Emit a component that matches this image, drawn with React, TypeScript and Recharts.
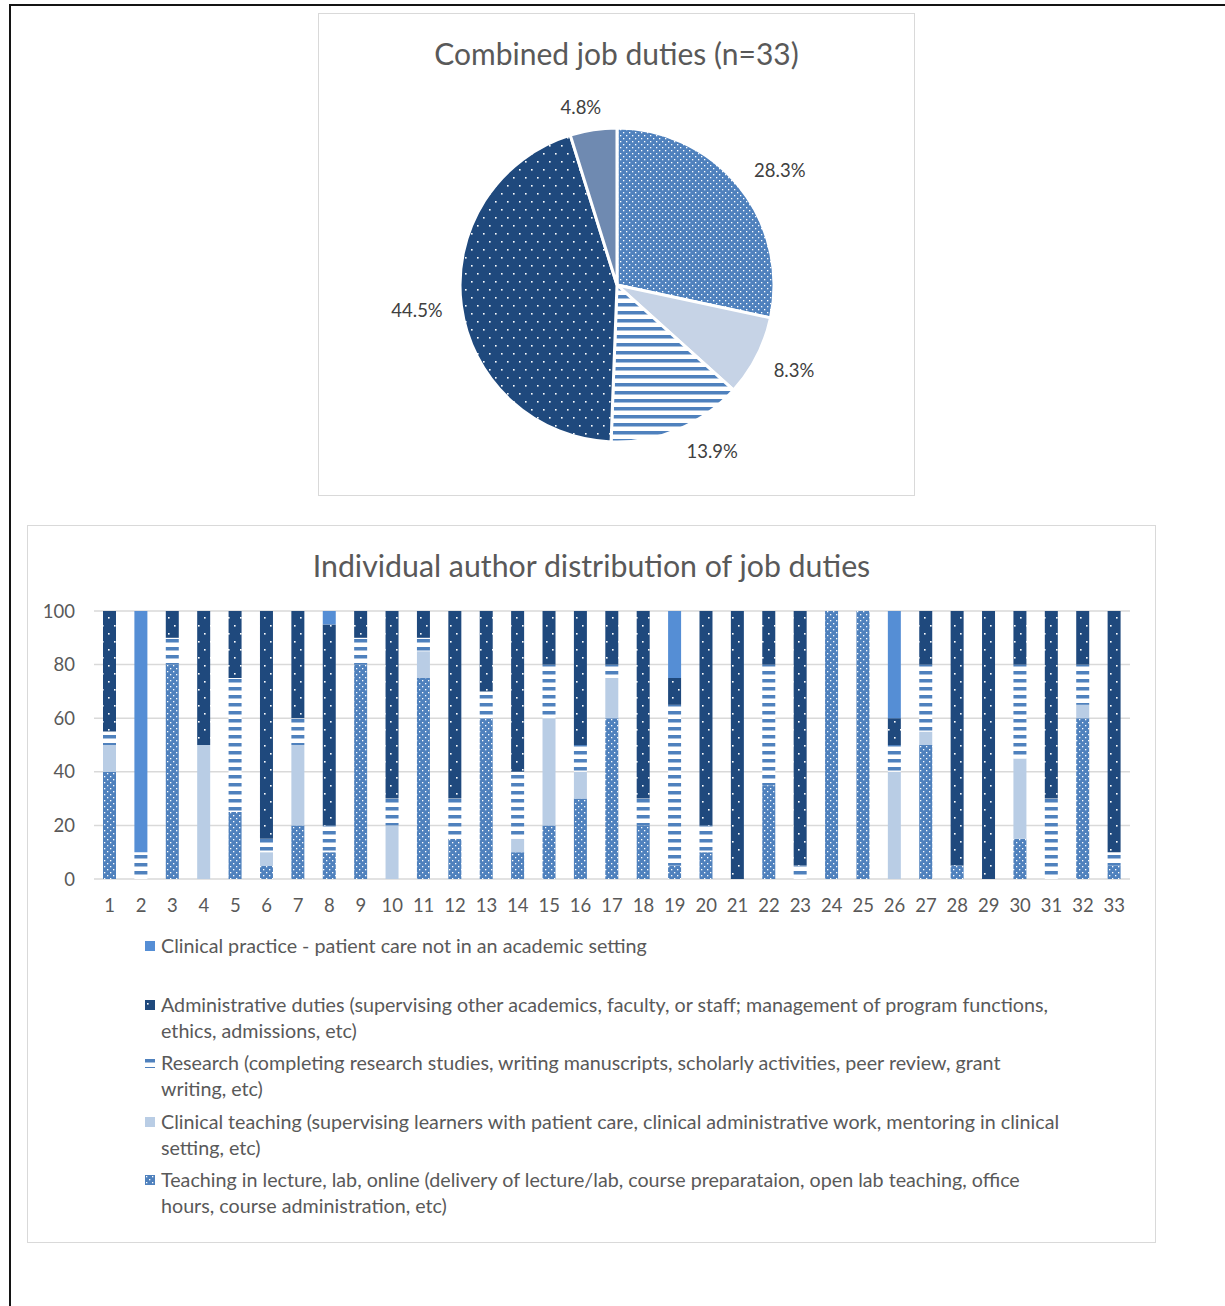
import React from 'react';
import { BarChart, Bar, XAxis, YAxis, CartesianGrid, Legend, PieChart, Pie, Cell } from 'recharts';

// ---------- data ----------
const AUTHORS = ['1','2','3','4','5','6','7','8','9','10','11','12','13','14','15','16','17','18','19','20','21','22','23','24','25','26','27','28','29','30','31','32','33'];
const TEACHING =           [40, 0, 80, 0, 25, 5, 20, 10, 80, 0, 75, 15, 60, 10, 20, 30, 60, 20, 5, 10, 0, 35, 0, 100, 100, 0, 50, 5, 0, 15, 0, 60, 5];
const CLINICAL_TEACHING =  [10, 0, 0, 50, 0, 5, 30, 0, 0, 20, 10, 0, 0, 5, 40, 10, 15, 0, 0, 0, 0, 0, 0, 0, 0, 40, 5, 0, 0, 30, 0, 5, 0];
const RESEARCH =           [5, 10, 10, 0, 50, 5, 10, 10, 10, 10, 5, 15, 10, 25, 20, 10, 5, 10, 60, 10, 0, 45, 5, 0, 0, 10, 25, 0, 0, 35, 30, 15, 5];
const ADMIN =              [45, 0, 10, 50, 25, 85, 40, 75, 10, 70, 10, 70, 30, 60, 20, 50, 20, 70, 10, 80, 100, 20, 95, 0, 0, 10, 20, 95, 100, 20, 70, 20, 90];
const PRACTICE =           [0, 90, 0, 0, 0, 0, 0, 5, 0, 0, 0, 0, 0, 0, 0, 0, 0, 0, 25, 0, 0, 0, 0, 0, 0, 40, 0, 0, 0, 0, 0, 0, 0];
const Y_TICKS = [0, 20, 40, 60, 80, 100];

const PIE_NAMES = ['Teaching', 'Clinical teaching', 'Research', 'Administrative duties', 'Clinical practice'];
const PIE_VALUES = [28.3, 8.3, 13.9, 44.5, 4.8];

const PIE_TITLE = 'Combined job duties (n=33)';
const BAR_TITLE = 'Individual author distribution of job duties';

const LEGEND_ORDER = ['practice', 'admin', 'research', 'clinicalTeaching', 'teaching'];
const LEGEND_LINES: Record<string, string[]> = {
  practice: ['Clinical practice - patient care not in an academic setting'],
  admin: ['Administrative duties (supervising other academics, faculty, or staff; management of program functions,', 'ethics, admissions, etc)'],
  research: ['Research (completing research studies, writing manuscripts, scholarly activities, peer review, grant', 'writing, etc)'],
  clinicalTeaching: ['Clinical teaching (supervising learners with patient care, clinical administrative work, mentoring in clinical', 'setting, etc)'],
  teaching: ['Teaching in lecture, lab, online (delivery of lecture/lab, course preparataion, open lab teaching, office', 'hours, course administration, etc)'],
};

const barData = AUTHORS.map((a, i) => ({
  author: a,
  teaching: TEACHING[i],
  clinicalTeaching: CLINICAL_TEACHING[i],
  research: RESEARCH[i],
  admin: ADMIN[i],
  practice: PRACTICE[i],
}));
const pieData = PIE_NAMES.map((n, i) => ({ name: n, value: PIE_VALUES[i] }));

// ---------- style ----------
const FONT = 'Lato, "Open Sans", sans-serif';
const TEXT = '#595959';
const BLUE = '#4f81bd';
const DARK = '#1f497d';
const LIGHT_BAR = '#b9cde5';
const LIGHT_PIE = '#c6d3e6';
const PRACTICE_BAR = '#558ed5';
const PRACTICE_PIE = '#6f8ab1';

const Patterns = ({ p }: { p: string }) => (
  <defs>
    <pattern id={`${p}teach`} width={6} height={6} patternUnits="userSpaceOnUse">
      <rect width={6} height={6} fill={BLUE} />
      <rect x={1} y={1} width={1.3} height={1.3} fill="#fff" />
      <rect x={4} y={4} width={1.3} height={1.3} fill="#fff" />
    </pattern>
    <pattern id={`${p}admin`} width={12} height={16} patternUnits="userSpaceOnUse">
      <rect width={12} height={16} fill={DARK} />
      <rect x={2} y={3} width={1.6} height={1.6} fill="#fff" />
      <rect x={8} y={11} width={1.6} height={1.6} fill="#fff" />
    </pattern>
    <pattern id={`${p}research`} width={8} height={8} patternUnits="userSpaceOnUse">
      <rect width={8} height={8} fill="#fff" />
      <rect y={1} width={8} height={3.5} fill={BLUE} />
    </pattern>
  </defs>
);

const clamp = (v: number) => Math.max(-1, Math.min(1, v));

const renderPieLabel = (props: any) => {
  const RAD = Math.PI / 180;
  const cx = Number(props.cx), cy = Number(props.cy);
  const dx = Math.cos(-props.midAngle * RAD);
  const dy = Math.sin(-props.midAngle * RAD);
  const text = `${Number(props.value).toFixed(1)}%`;
  const w = text.length * 11;
  const h = 12;
  const r = Number(props.outerRadius) + 17;
  const x = cx + r * dx + clamp(dx * 3) * w / 2;
  const y = cy + r * dy + clamp(dy * 3) * h / 2;
  return (
    <text x={x} y={y} textAnchor="middle" dominantBaseline="central"
      fill="#404040" style={{ fontFamily: FONT, fontSize: 18.5 }}>
      {text}
    </text>
  );
};

const renderLegend = (props: any) => {
  const items = [...(props.payload || [])].sort(
    (a: any, b: any) => LEGEND_ORDER.indexOf(a.dataKey) - LEGEND_ORDER.indexOf(b.dataKey)
  );
  return (
    <div style={{ fontFamily: FONT, fontSize: 19.7, color: TEXT, lineHeight: '26px' }}>
      {items.map((it: any) => (
        <div key={it.dataKey} style={{ display: 'flex', alignItems: 'flex-start', height: 58.6 }}>
          <svg width={10} height={10} style={{ marginTop: 8, marginRight: 6, flex: 'none' }}>
            <rect width={10} height={10} fill={it.color} />
          </svg>
          <div>
            {(LEGEND_LINES[it.dataKey] || [String(it.value)]).map((l, i) => (
              <div key={i} style={{ whiteSpace: 'nowrap' }}>{l}</div>
            ))}
          </div>
        </div>
      ))}
    </div>
  );
};

const pieFills = ['url(#pteach)', LIGHT_PIE, 'url(#presearch)', 'url(#padmin)', PRACTICE_PIE];

export default function App() {
  return (
    <div style={{ position: 'fixed', left: 0, top: 0, width: 1225, height: 1306, overflow: 'hidden', background: '#fff', fontFamily: FONT }}>
      <div style={{ position: 'absolute', left: 9, top: 4, width: 1400, height: 1400, borderTop: '2px solid #141414', borderLeft: '2px solid #141414' }} />

      {/* pie box */}
      <div style={{ position: 'absolute', left: 318, top: 13, width: 595, height: 481, border: '1px solid #d9d9d9', background: '#fff' }}>
        <div style={{ position: 'absolute', left: 0, top: 0 }}>
          <PieChart width={595} height={481} margin={{ top: 0, right: 0, bottom: 0, left: 0 }}>
            <Patterns p="p" />
            <Pie data={pieData} dataKey="value" nameKey="name" cx={298} cy={271} outerRadius={157}
              startAngle={90} endAngle={-270} stroke="#fff" strokeWidth={3}
              label={renderPieLabel} labelLine={false} isAnimationActive={false}>
              {pieData.map((d, i) => <Cell key={d.name} fill={pieFills[i]} />)}
            </Pie>
          </PieChart>
        </div>
        <div style={{ position: 'absolute', left: 0, width: 595, top: 19, height: 40, lineHeight: '40px', textAlign: 'center', fontSize: 30, color: TEXT }}>
          {PIE_TITLE}
        </div>
      </div>

      {/* bar box */}
      <div style={{ position: 'absolute', left: 27, top: 525, width: 1127, height: 716, border: '1px solid #d9d9d9', background: '#fff' }}>
        <div style={{ position: 'absolute', left: 0, top: 0 }}>
          <BarChart width={1127} height={716} data={barData} margin={{ top: 85, right: 25, left: 0, bottom: 323 }}>
            <Patterns p="b" />
            <CartesianGrid vertical={false} stroke="#d9d9d9" strokeWidth={1.5} />
            <XAxis dataKey="author" interval={0} axisLine={false} tickLine={false} tickSize={0} tickMargin={20} height={40}
              tick={{ fill: TEXT, fontSize: 18.5, fontFamily: FONT }} />
            <YAxis domain={[0, 100]} ticks={Y_TICKS} axisLine={false} tickLine={false} tickSize={0} tickMargin={19} width={66}
              tick={{ fill: TEXT, fontSize: 18.5, fontFamily: FONT }} />
            <Legend layout="horizontal" verticalAlign="middle" align="center" content={renderLegend}
              wrapperStyle={{ left: 117, top: 407, width: 1000, height: 300 }} />
            <Bar dataKey="teaching" name="Teaching in lecture, lab, online" stackId="s" barSize={13} fill="url(#bteach)" isAnimationActive={false} />
            <Bar dataKey="clinicalTeaching" name="Clinical teaching" stackId="s" barSize={13} fill={LIGHT_BAR} isAnimationActive={false} />
            <Bar dataKey="research" name="Research" stackId="s" barSize={13} fill="url(#bresearch)" isAnimationActive={false} />
            <Bar dataKey="admin" name="Administrative duties" stackId="s" barSize={13} fill="url(#badmin)" isAnimationActive={false} />
            <Bar dataKey="practice" name="Clinical practice" stackId="s" barSize={13} fill={PRACTICE_BAR} isAnimationActive={false} />
          </BarChart>
        </div>
        <div style={{ position: 'absolute', left: 0, width: 1127, top: 19, height: 40, lineHeight: '40px', textAlign: 'center', fontSize: 30.3, color: TEXT }}>
          {BAR_TITLE}
        </div>
      </div>
    </div>
  );
}
